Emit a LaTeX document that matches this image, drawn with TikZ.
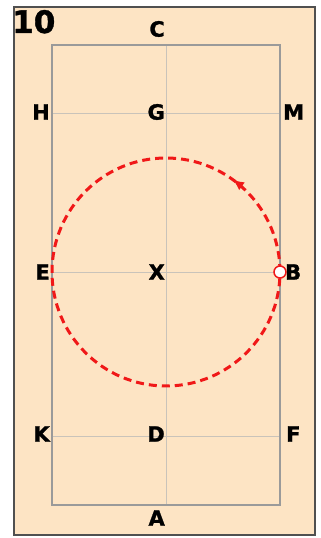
\documentclass[tikz,border=0pt]{standalone}
\usepackage{fontspec}
\setmainfont{DejaVu Sans}[BoldFeatures={FakeBold=1.2}]
\usetikzlibrary{arrows.meta,calc}
\definecolor{peach}{HTML}{FDE4C4}
\definecolor{gridc}{HTML}{C9C3BA}
\definecolor{rectc}{HTML}{9A9A9A}
\definecolor{outc}{HTML}{505050}
\definecolor{dred}{HTML}{F01818}
\tikzset{
  lbl/.style={inner sep=0pt, font=\fontsize{21}{21}\selectfont\bfseries},
  lblL/.style={lbl, anchor=east},
  lblR/.style={lbl, anchor=west},
  gridline/.style={draw=gridc, line width=0.9pt},
}
\begin{document}
\begin{tikzpicture}[x=1pt,y=1pt]
\useasboundingbox (0,0) rectangle (321,538);
% outer box
\draw[outc, line width=2.2pt, fill=peach] (14,3) rectangle (315,531);
% points
\coordinate (bl) at (52,33);
\coordinate (tr) at (280,493);
\coordinate (ctop) at (166,493);
\coordinate (cbot) at (166,33);
\coordinate (h1) at (52,425); \coordinate (h2) at (280,425);
\coordinate (m1) at (52,266); \coordinate (m2) at (280,266);
\coordinate (l1) at (52,102); \coordinate (l2) at (280,102);
\coordinate (ctr) at (166,266);
% grid lines
\draw[gridline] (ctop) -- (cbot);
\draw[gridline] (h1) -- (h2);
\draw[gridline] (m1) -- (m2);
\draw[gridline] (l1) -- (l2);
% inner rectangle
\draw[rectc, line width=2.6pt] (bl) rectangle (tr);
% circle
\draw[dred, line width=3pt, dash pattern=on 8pt off 5pt] (ctr) circle[radius=114];
\draw[dred, line width=3pt, -{Latex[length=11pt,width=10pt]}] ($(ctr)+(50:114)$) arc[start angle=50, end angle=54, radius=114];
% marker at B
\node[circle, draw=dred, fill=white, line width=1.5pt, minimum size=12pt, inner sep=0pt] (bpt) at (m2) {};
% labels
\node[inner sep=0pt, anchor=base west, font=\fontsize{31}{31}\selectfont\bfseries] (n10) at (12,505) {10};
\node[lblL] (C) at (165,509) {C};
\node[lblL] (G) at (165,426) {G};
\node[lblL] (H) at (50,426) {H};
\node[lblR] (M) at (283,426) {M};
\node[lblL] (E) at (50,266) {E};
\node[lblL] (X) at (165,266) {X};
\node[lblR] (B) at (285,266) {B};
\node[lblL] (K) at (50,104) {K};
\node[lblL] (D) at (165,104) {D};
\node[lblR] (F) at (286,104) {F};
\node[lblL] (A) at (165,20) {A};
\end{tikzpicture}
\end{document}
